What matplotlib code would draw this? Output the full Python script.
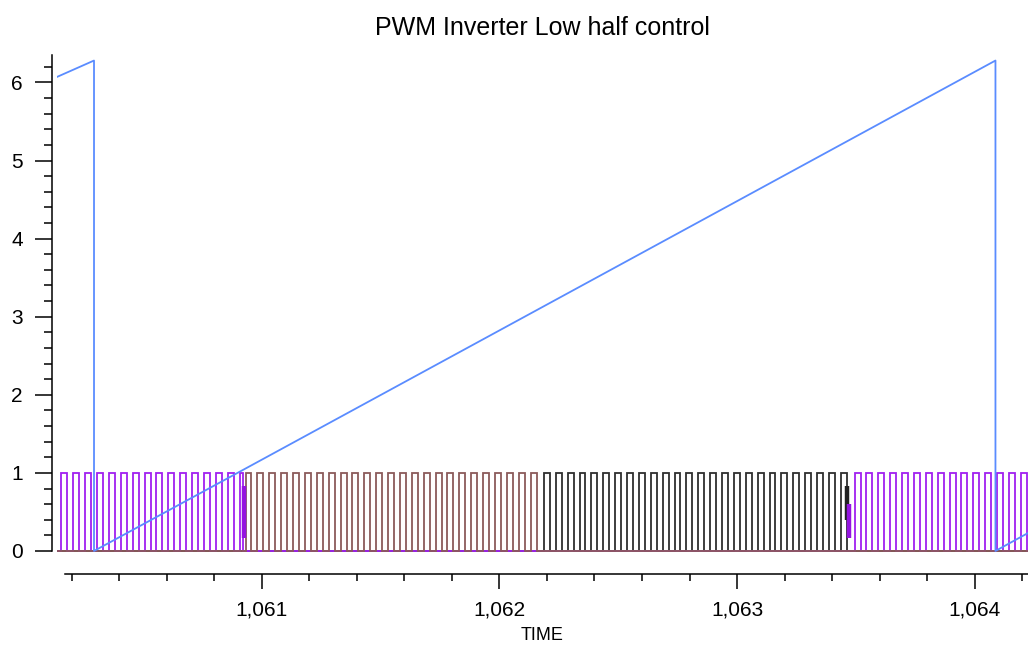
import numpy as np
import matplotlib
matplotlib.use("Agg")
import matplotlib.pyplot as plt
from matplotlib.ticker import FuncFormatter, MultipleLocator

plt.rcParams["font.family"] = ["Liberation Sans", "DejaVu Sans"]

# time window shown
t_first = 1060.137
t_last = 1064.225

# PWM carrier
pulse_period = 0.05
pulse_high = 0.025

# active segments: first rising edge, end of segment, which signal
seg_start = [1060.156, 1060.931, 1062.187, 1063.495]
seg_end = [1060.920, 1062.180, 1063.465, 1064.225]
seg_signal = ["purple", "brown", "black", "purple"]

signal_colors = {"black": "#2e2e2e", "purple": "#a020f0", "brown": "#8b5a5a"}
draw_order = ["black", "purple", "brown"]

# switching glitches at the handovers: time, y from, y to, colour
glitch_t = [1060.924, 1063.462, 1063.472]
glitch_lo = [0.17, 0.40, 0.17]
glitch_hi = [0.83, 0.83, 0.60]
glitch_color = ["#9414e0", "#222222", "#9414e0"]

# phase sawtooth (0 .. 2*pi), corners
saw_t = [1060.137, 1060.293, 1060.293, 1064.088, 1064.088, 1064.225]
saw_v = [6.07, 6.28, 0.0, 6.28, 0.0, 0.23]

x_ticks = [1061, 1062, 1063, 1064]
y_ticks = [0, 1, 2, 3, 4, 5, 6]


def pwm_steps(name):
    """Step outline for one signal: 0 outside its segments, pulses inside."""
    ts, vs = [t_first], [0.0]
    for s, e, sig in zip(seg_start, seg_end, seg_signal):
        if sig != name:
            continue
        t = s
        while t < e:
            t_off = min(t + pulse_high, e)
            ts += [t, t, t_off, t_off]
            vs += [0.0, 1.0, 1.0, 0.0]
            t += pulse_period
    ts.append(t_last)
    vs.append(0.0)
    return np.array(ts), np.array(vs)


fig = plt.figure(figsize=(10.28, 6.48), dpi=100)
ax = fig.add_axes([0.0554, 0.1437, 0.9446, 0.7725])

for name in draw_order:
    ts, vs = pwm_steps(name)
    ax.plot(ts, vs, color=signal_colors[name], lw=1.3, solid_joinstyle="miter")

for t, lo, hi, c in zip(glitch_t, glitch_lo, glitch_hi, glitch_color):
    ax.plot([t, t], [lo, hi], color=c, lw=3.2, solid_capstyle="butt")

ax.plot(saw_t, saw_v, color="#5a8cff", lw=1.3)

ax.set_xlim(t_first, t_last)
ax.set_ylim(-0.05, 6.36)

for side in ("top", "right"):
    ax.spines[side].set_visible(False)
ax.spines["left"].set_position(("outward", 3.6))
ax.spines["bottom"].set_position(("outward", 13.7))
ax.spines["left"].set_bounds(0, 6.35)
ax.spines["bottom"].set_bounds(1060.17, t_last)
for side in ("left", "bottom"):
    ax.spines[side].set_linewidth(1.1)

ax.set_xticks(x_ticks)
ax.set_yticks(y_ticks)
ax.xaxis.set_minor_locator(MultipleLocator(0.2))
ax.yaxis.set_minor_locator(MultipleLocator(0.2))
ax.xaxis.set_major_formatter(FuncFormatter(lambda v, _: f"{int(round(v)):,}"))

ax.tick_params(axis="y", which="major", length=12, width=1.1, pad=9, labelsize=15)
ax.tick_params(axis="y", which="minor", length=6, width=1.1)
ax.tick_params(axis="x", which="major", length=10.5, width=1.1, pad=9, labelsize=15)
ax.tick_params(axis="x", which="minor", length=5, width=1.1)

ax.set_xlabel("TIME", fontsize=13, labelpad=5)
ax.set_title("PWM Inverter Low half control", fontsize=18, pad=14)

fig.savefig("out.png", dpi=100)
